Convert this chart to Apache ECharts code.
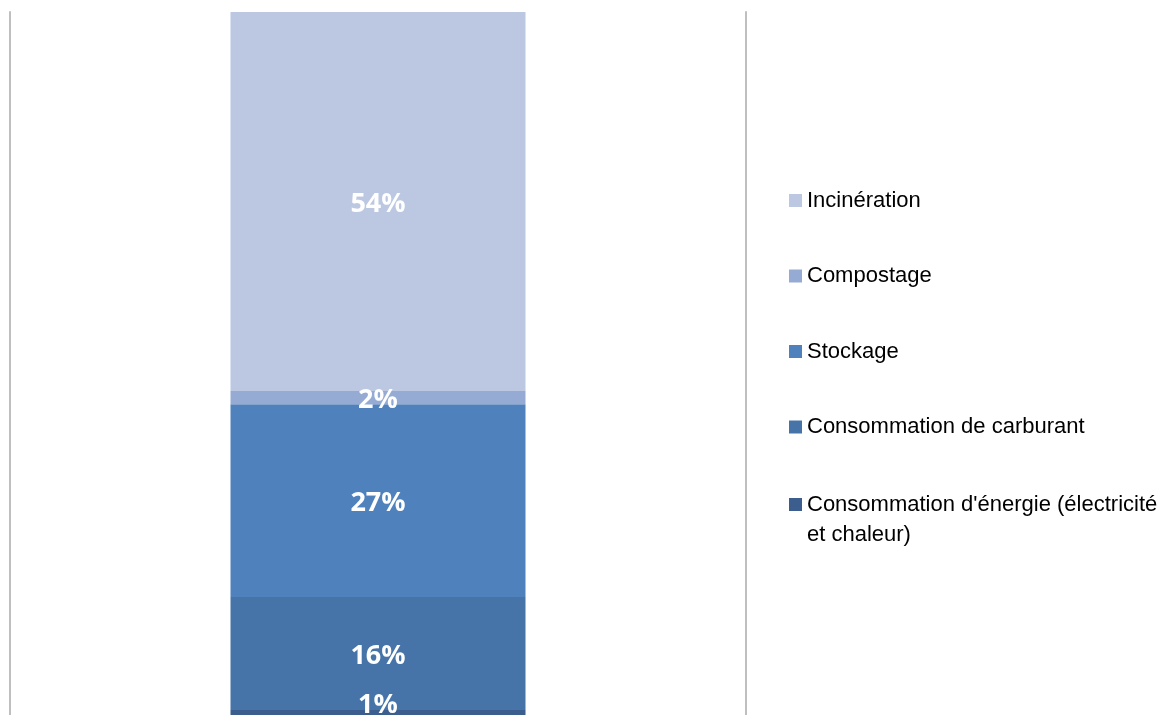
<!DOCTYPE html>
<html>
<head>
<meta charset="utf-8">
<script src="https://cdn.jsdelivr.net/npm/echarts@6/dist/echarts.min.js"></script>
<style>
  html, body { margin: 0; padding: 0; background: #fff; }
  #chart { width: 1158px; height: 715px; }
</style>
</head>
<body>
<div id="chart"></div>
<script>
// one stacked column, shares in %
const categories = [""];
const energie = [0.7];
const carburant = [16.1];
const stockage = [27.4];
const compostage = [1.9];
const incineration = [53.9];

const seriesNames = [
  "Consommation d'énergie (électricité et chaleur)",
  "Consommation de carburant",
  "Stockage",
  "Compostage",
  "Incinération"
];
const seriesValues = [energie, carburant, stockage, compostage, incineration];
const colors = ["#3b5e8f", "#4674a8", "#4f81bd", "#95abd3", "#bcc8e1"];

const chart = echarts.init(document.getElementById("chart"));

const series = seriesValues.map((values, i) => ({
  name: seriesNames[i],
  type: "bar",
  stack: "total",
  barWidth: 295,
  data: values,
  itemStyle: { color: colors[i] },
  label: {
    show: true,
    position: "inside",
    color: "#fff",
    fontFamily: "Open Sans",
    fontWeight: "bold",
    fontSize: 27,
    offset: i === 0 ? [0, -7] : [0, 3],
    formatter: (p) => Math.round(p.value) + "%"
  }
}));

const legendText = {
  fontFamily: "'Liberation Sans', Arial",
  fontSize: 22,
  lineHeight: 30,
  color: "#000"
};

const option = {
  animation: false,
  grid: { left: 10, right: 412, top: 12, bottom: 0 },
  xAxis: {
    type: "category",
    data: categories,
    axisLine: { show: false },
    axisTick: { show: false },
    axisLabel: { show: false }
  },
  yAxis: [
    {
      type: "value",
      min: 0,
      max: 100,
      position: "left",
      axisLine: { show: true, lineStyle: { color: "#bfbfbf", width: 2 } },
      axisTick: { show: false },
      axisLabel: { show: false },
      splitLine: { show: false }
    },
    {
      type: "value",
      min: 0,
      max: 100,
      position: "right",
      axisLine: { show: true, lineStyle: { color: "#bfbfbf", width: 2 } },
      axisTick: { show: false },
      axisLabel: { show: false },
      splitLine: { show: false }
    }
  ],
  legend: [
    {
      orient: "vertical",
      left: 784,
      top: 180.5,
      itemWidth: 13,
      itemHeight: 13,
      itemGap: 45.5,
      icon: "rect",
      selectedMode: false,
      textStyle: legendText,
      data: seriesNames.slice(1).reverse()
    },
    {
      orient: "vertical",
      left: 784,
      top: 484.5,
      itemWidth: 13,
      itemHeight: 43,
      icon: "path://M0,0h13v13h-13z M0,43",
      selectedMode: false,
      textStyle: legendText,
      formatter: (name) => name.replace(" et chaleur", "\net chaleur"),
      data: [seriesNames[0]]
    }
  ],
  series
};

chart.setOption(option);
</script>
</body>
</html>
